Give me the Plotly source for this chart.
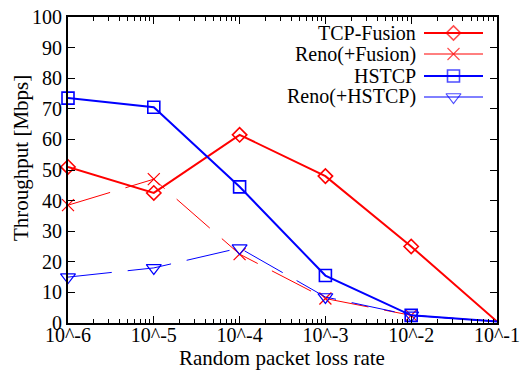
import plotly.graph_objects as go

loss_rates = [1e-6, 1e-5, 1e-4, 1e-3, 1e-2, 1e-1]
tick_labels = ["10^-6", "10^-5", "10^-4", "10^-3", "10^-2", "10^-1"]
tcp_fusion = [51, 42.5, 61.5, 48, 25, 0.5]
reno_fusion = [38.5, 47, 22.5, 8, 2.5, 0.5]
hstcp = [73.5, 70.5, 44.5, 15.5, 2.5, 0.5]
reno_hstcp = [15, 18, 24.5, 8.5, 2.5, 0.5]
series_names = ["TCP-Fusion", "Reno(+Fusion)", "HSTCP", "Reno(+HSTCP)"]

RED = "#ff0000"
BLUE = "#0000ff"
FONT = "Liberation Serif"

styles = [
    dict(color=RED, width=2, dash="solid", symbol="diamond-open", size=11),
    dict(color=RED, width=1, dash="44px,16px", symbol="x-thin-open", size=12),
    dict(color=BLUE, width=2, dash="solid", symbol="square-open", size=12),
    dict(color=BLUE, width=1, dash="44px,16px", symbol="triangle-down-open", size=13),
]
data = [tcp_fusion, reno_fusion, hstcp, reno_hstcp]

fig = go.Figure()
for name, ys, st in zip(series_names, data, styles):
    fig.add_trace(go.Scatter(
        x=loss_rates, y=ys, mode="lines+markers", name=name,
        line=dict(color=st["color"], width=st["width"], dash=st["dash"]),
        marker=dict(symbol=st["symbol"], size=st["size"], color=st["color"],
                    line=dict(color=st["color"], width=1.6 if st["width"] == 2 else 1.2)),
        showlegend=False, cliponaxis=False,
    ))

# page body margin is removed by post_script, so figure pixel = page pixel
W, H = 521, 370
L, R, T, B = 68, 497, 17, 323


def px(xp):
    return (xp - L) / (R - L)


def py(yp):
    return (B - yp) / (B - T)


rows = [33, 54, 76, 97]
for name, st, yy in zip(series_names, styles, rows):
    fig.add_trace(go.Scatter(
        x=[px(424), px(453.5), px(483)], y=[py(yy)] * 3, xaxis="x2", yaxis="y2",
        mode="lines+markers", showlegend=False, hoverinfo="skip",
        line=dict(color=st["color"], width=st["width"]),
        marker=dict(symbol=st["symbol"], size=[0, st["size"], 0], color=st["color"],
                    line=dict(color=st["color"], width=1.6 if st["width"] == 2 else 1.2)),
    ))
    fig.add_annotation(x=px(418), y=py(yy), xref="paper", yref="paper", text=name,
                       showarrow=False, xanchor="right", yanchor="middle",
                       font=dict(family=FONT, size=20, color="black"))

fig.add_annotation(x=px(21), y=py(158), xref="paper", yref="paper", text="Throughput [Mbps]",
                   showarrow=False, textangle=-90, xanchor="center", yanchor="middle",
                   font=dict(family=FONT, size=21, color="black"))
fig.add_annotation(x=px(282), y=py(358), xref="paper", yref="paper", text="Random packet loss rate",
                   showarrow=False, xanchor="center", yanchor="middle",
                   font=dict(family=FONT, size=21, color="black"))

minor_vals = [m * 10 ** e for e in range(-6, -1) for m in range(2, 10)]

fig.update_layout(
    width=W, height=H,
    margin=dict(l=L, r=W - R, t=T, b=H - B),
    paper_bgcolor="white", plot_bgcolor="white",
    xaxis=dict(
        type="log", range=[-6, -1], tickvals=loss_rates, ticktext=tick_labels,
        ticks="inside", ticklen=7, tickwidth=1, tickcolor="black",
        showline=True, linecolor="black", linewidth=2, mirror="ticks",
        showgrid=False, zeroline=False, automargin=False, ticklabeloverflow="allow",
        ticklabelstandoff=-7,
        minor=dict(tickvals=minor_vals, ticks="inside", ticklen=4, tickcolor="black", showgrid=False),
        tickfont=dict(family=FONT, size=20, color="black"),
    ),
    yaxis=dict(
        range=[0, 100], dtick=10, ticks="inside", ticklen=7, tickcolor="black",
        showline=True, linecolor="black", linewidth=2, mirror="ticks", automargin=False,
        ticklabeloverflow="allow",
        showgrid=False, zeroline=False, tickfont=dict(family=FONT, size=20, color="black"),
    ),
    xaxis2=dict(overlaying="x", range=[0, 1], visible=False, fixedrange=True),
    yaxis2=dict(overlaying="y", range=[0, 1], visible=False, fixedrange=True),
)

fig.write_html(
    "out.html",
    config={"displayModeBar": False},
    post_script="document.body.style.margin='0';document.body.style.overflow='hidden';"
                "document.documentElement.style.overflow='hidden';",
)
